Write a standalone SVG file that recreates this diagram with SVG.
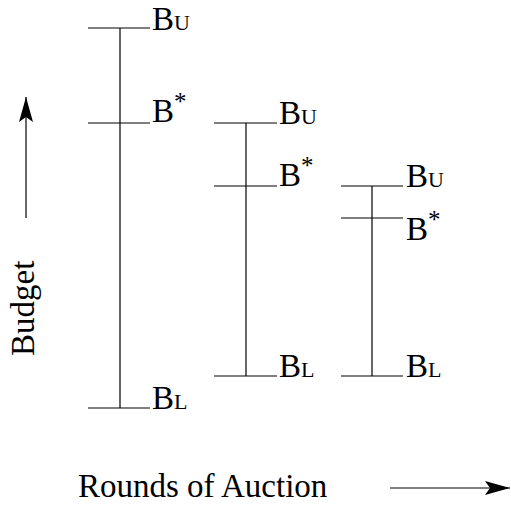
<svg xmlns="http://www.w3.org/2000/svg" width="511" height="505" viewBox="0 0 511 505">
<style>
.ln{stroke:#000;stroke-width:1.2;fill:none}
.t{font-family:"Liberation Serif","Times New Roman",serif;font-size:33px;fill:#000}
.s{font-size:22px}
.a{font-size:25px}
</style>
<defs>
<marker id="ah" markerUnits="userSpaceOnUse" markerWidth="28" markerHeight="16" refX="25" refY="8" orient="auto">
<path d="M0,1 L25,8 L0,15 L5,8 z" fill="#000"/>
</marker>
</defs>
<rect width="511" height="505" fill="#fff"/>
<g id="bar1">
<line class="ln" x1="120" y1="28" x2="120" y2="408"/>
<line class="ln" x1="88" y1="28" x2="150" y2="28"/>
<line class="ln" x1="88" y1="123" x2="150" y2="123"/>
<line class="ln" x1="88" y1="408" x2="150" y2="408"/>
<text class="t" x="152" y="30">B<tspan class="s">U</tspan></text>
<text class="t" x="152" y="122">B<tspan class="a" dy="-12">*</tspan></text>
<text class="t" x="152" y="409">B<tspan class="s">L</tspan></text>
</g>
<g id="bar2">
<line class="ln" x1="246" y1="123" x2="246" y2="376"/>
<line class="ln" x1="214" y1="123" x2="277" y2="123"/>
<line class="ln" x1="214" y1="186" x2="277" y2="186"/>
<line class="ln" x1="214" y1="376" x2="277" y2="376"/>
<text class="t" x="279" y="124">B<tspan class="s">U</tspan></text>
<text class="t" x="279" y="186">B<tspan class="a" dy="-12">*</tspan></text>
<text class="t" x="279" y="377">B<tspan class="s">L</tspan></text>
</g>
<g id="bar3">
<line class="ln" x1="372" y1="186" x2="372" y2="376"/>
<line class="ln" x1="341" y1="186" x2="403" y2="186"/>
<line class="ln" x1="341" y1="218" x2="403" y2="218"/>
<line class="ln" x1="341" y1="376" x2="403" y2="376"/>
<text class="t" x="406" y="187">B<tspan class="s">U</tspan></text>
<text class="t" x="406" y="240">B<tspan class="a" dy="-12">*</tspan></text>
<text class="t" x="406" y="377">B<tspan class="s">L</tspan></text>
</g>
<g id="labels">
<text class="t" transform="translate(34,356) rotate(-90)">Budget</text>
<text class="t" x="78" y="497">Rounds of Auction</text>
</g>
<g id="connectors">
<line class="ln" x1="26" y1="218" x2="26" y2="97" marker-end="url(#ah)"/>
<line class="ln" x1="390" y1="488" x2="510" y2="488" marker-end="url(#ah)"/>
</g>
</svg>
